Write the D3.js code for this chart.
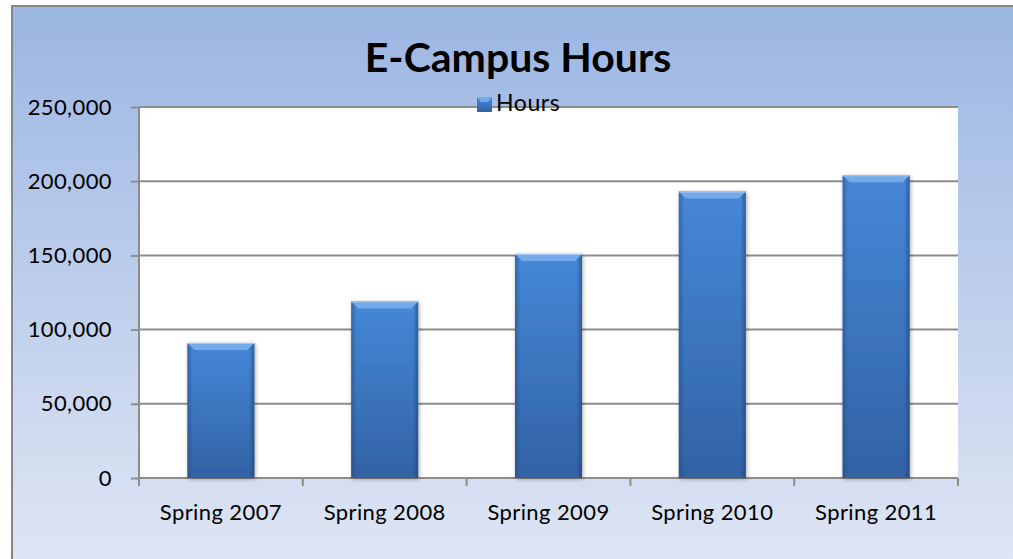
<!DOCTYPE html>
<html>
<head>
<meta charset="utf-8">
<script src="https://cdn.jsdelivr.net/npm/d3@7"></script>
<style>
  html, body { margin: 0; padding: 0; background: #fff; }
  svg { display: block; }
  text { font-family: Lato, "Open Sans", sans-serif; fill: #000; }
</style>
</head>
<body>
<svg id="chart" width="1013" height="559"></svg>
<script>
// chart data
const categories = ["Spring 2007", "Spring 2008", "Spring 2009", "Spring 2010", "Spring 2011"];
const hours = [91000, 119000, 151000, 193000, 204000];
const yTicks = [0, 50000, 100000, 150000, 200000, 250000];
const seriesName = "Hours";
const chartTitle = "E-Campus Hours";

const W = 1013, H = 559;
const plot = { left: 139, right: 958, top: 107, bottom: 478 };

const svg = d3.select("#chart");
const defs = svg.append("defs");

// background gradient of the chart area
const bg = defs.append("linearGradient").attr("id", "bg")
  .attr("x1", 0).attr("y1", 0).attr("x2", 0).attr("y2", 1);
bg.append("stop").attr("offset", "0%").attr("stop-color", "#9bb6e3");
bg.append("stop").attr("offset", "100%").attr("stop-color", "#dfe6f4");

// bar body
const barGrad = defs.append("linearGradient").attr("id", "barGrad")
  .attr("x1", 0).attr("y1", 0).attr("x2", 0).attr("y2", 1);
barGrad.append("stop").attr("offset", "0%").attr("stop-color", "#4588d8");
barGrad.append("stop").attr("offset", "100%").attr("stop-color", "#3262a4");

// side shading
const sideGrad = defs.append("linearGradient").attr("id", "sideGrad")
  .attr("x1", 0).attr("y1", 0).attr("x2", 1).attr("y2", 0);
sideGrad.append("stop").attr("offset", "0%").attr("stop-color", "#1f3f70").attr("stop-opacity", 0.45);
sideGrad.append("stop").attr("offset", "8%").attr("stop-color", "#1f3f70").attr("stop-opacity", 0);
sideGrad.append("stop").attr("offset", "92%").attr("stop-color", "#1f3f70").attr("stop-opacity", 0);
sideGrad.append("stop").attr("offset", "100%").attr("stop-color", "#1f3f70").attr("stop-opacity", 0.6);

const shadow = defs.append("filter").attr("id", "shadow")
  .attr("x", "-20%").attr("y", "-5%").attr("width", "140%").attr("height", "110%");
shadow.append("feGaussianBlur").attr("in", "SourceAlpha").attr("stdDeviation", 2);
shadow.append("feOffset").attr("dx", 1).attr("dy", 1).attr("result", "b");
shadow.append("feComponentTransfer").append("feFuncA").attr("type", "linear").attr("slope", 0.35);
const merge = shadow.append("feMerge");
merge.append("feMergeNode");
merge.append("feMergeNode").attr("in", "SourceGraphic");

// chart area background + border
svg.append("rect")
  .attr("x", 12).attr("y", 6).attr("width", W).attr("height", H)
  .attr("fill", "url(#bg)").attr("stroke", "#868686").attr("stroke-width", 2);

svg.append("rect")
  .attr("x", plot.left).attr("y", plot.top)
  .attr("width", plot.right - plot.left).attr("height", plot.bottom - plot.top)
  .attr("fill", "#fff");

const x = d3.scaleBand().domain(categories).range([plot.left, plot.right]).paddingInner(0).paddingOuter(0);
const y = d3.scaleLinear().domain([0, 250000]).range([plot.bottom, plot.top]);

// gridlines
svg.append("g").selectAll("line").data(yTicks.filter(d => d > 0)).join("line")
  .attr("x1", plot.left).attr("x2", plot.right)
  .attr("y1", d => y(d)).attr("y2", d => y(d))
  .attr("stroke", "#8c8c8c").attr("stroke-width", 2);

const labelStyle = sel => sel.style("font-size", "22px").style("letter-spacing", "0.4px").attr("fill", "#000");

// y axis
const yAxis = svg.append("g").attr("transform", `translate(${plot.left},0)`)
  .call(d3.axisLeft(y).tickValues(yTicks).tickSize(8).tickPadding(19).tickFormat(d3.format(",")));
yAxis.select(".domain").attr("stroke", "#8c8c8c").attr("stroke-width", 2).attr("d", `M0,${plot.top}V${plot.bottom}`);
yAxis.selectAll(".tick line").attr("stroke", "#8c8c8c").attr("stroke-width", 2);
yAxis.selectAll("text").call(labelStyle);

// x axis
const xAxis = svg.append("g").attr("transform", `translate(0,${plot.bottom})`)
  .call(d3.axisBottom(x).tickSize(0).tickPadding(26));
xAxis.select(".domain").attr("stroke", "#8c8c8c").attr("stroke-width", 2)
  .attr("d", `M${plot.left},0H${plot.right}`);
xAxis.selectAll("text").call(labelStyle);
// category boundary ticks
xAxis.append("g").selectAll("line")
  .data(categories.map(c => x(c)).concat([plot.right]))
  .join("line")
  .attr("x1", d => d).attr("x2", d => d).attr("y1", 0).attr("y2", 8)
  .attr("stroke", "#8c8c8c").attr("stroke-width", 2);

// bars
const barW = 67;
const bars = svg.append("g").selectAll("g").data(categories).join("g")
  .attr("transform", (d, i) => `translate(${x(d) + x.bandwidth() / 2 - barW / 2},${y(hours[i])})`);

bars.append("rect")
  .attr("width", barW).attr("height", (d, i) => plot.bottom - y(hours[i]))
  .attr("fill", "url(#barGrad)").attr("filter", "url(#shadow)");
bars.append("rect")
  .attr("width", barW).attr("height", (d, i) => plot.bottom - y(hours[i]))
  .attr("fill", "url(#sideGrad)");
// top bevel
bars.append("path")
  .attr("d", `M0,0H${barW}L${barW - 7},7H7Z`)
  .attr("fill", "#74aaea");
bars.append("line")
  .attr("x1", 0).attr("x2", barW).attr("y1", 0.5).attr("y2", 0.5)
  .attr("stroke", "#a9cdf6").attr("stroke-width", 1);

// title
svg.append("text")
  .attr("x", 518).attr("y", 72)
  .attr("text-anchor", "middle")
  .style("font-size", "41px").style("font-weight", "bold")
  .text(chartTitle);

// legend
const lg = svg.append("g").attr("transform", "translate(477,97)");
lg.append("rect").attr("width", 15).attr("height", 15).attr("fill", "url(#barGrad)");
lg.append("path").attr("d", "M0,0H15L11,5H4Z").attr("fill", "#74aaea");
lg.append("text").attr("x", 19).attr("y", 14).style("font-size", "23px").style("letter-spacing", "0.6px").text(seriesName);
</script>
</body>
</html>
